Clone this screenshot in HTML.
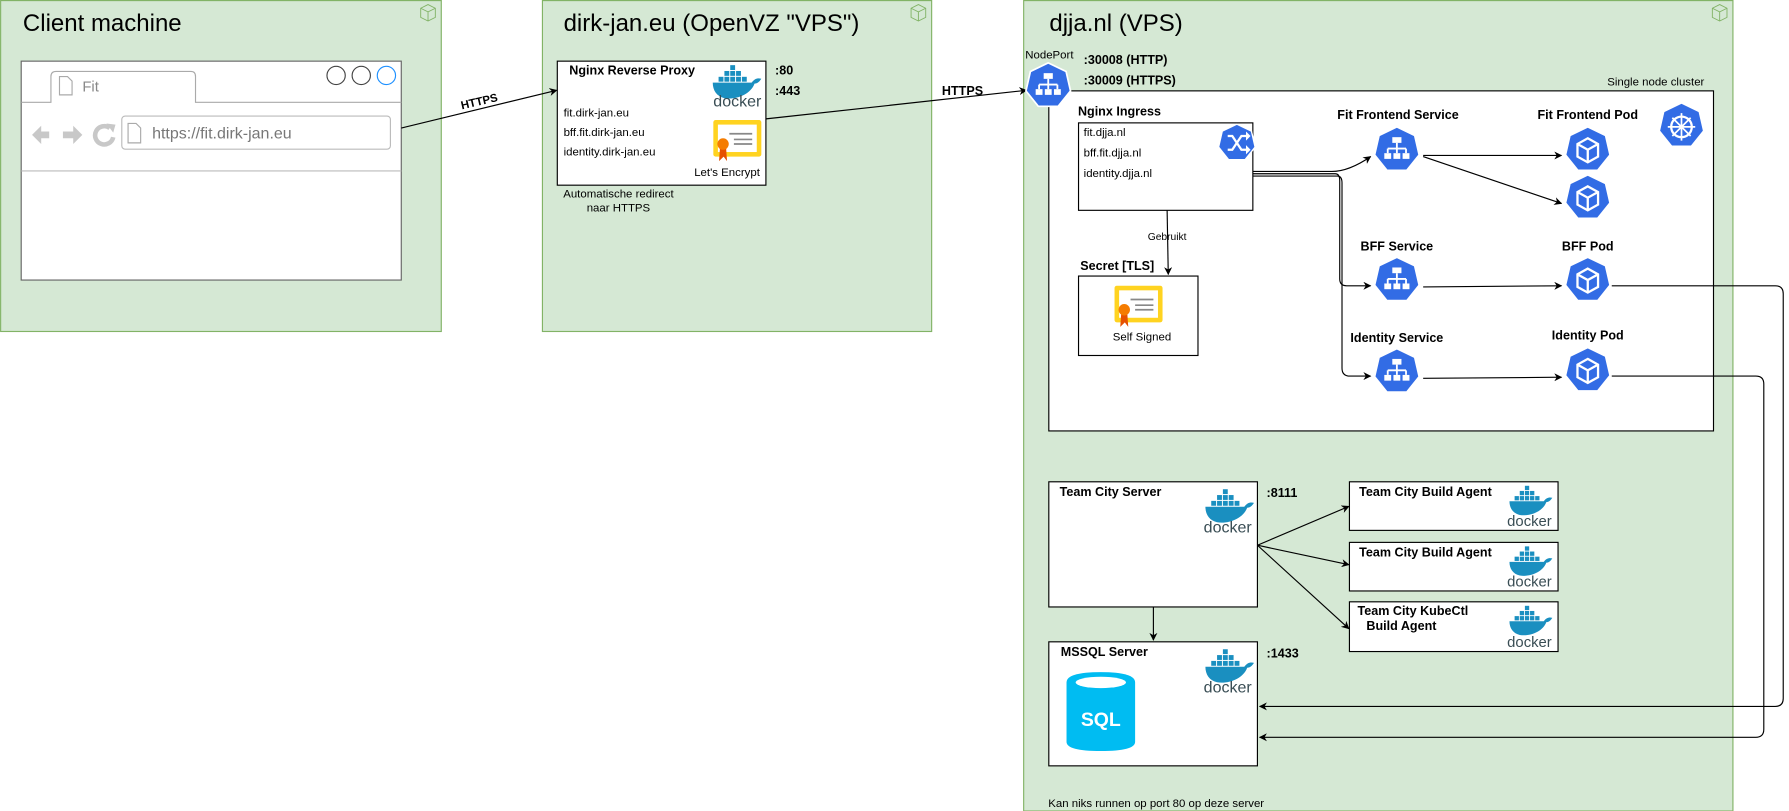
<!DOCTYPE html>
<html><head><meta charset="utf-8"><style>
html,body{margin:0;padding:0;background:#fff;}
svg{display:block;font-family:"Liberation Sans",Arial,sans-serif;}
.b{font-weight:bold;font-size:11px;}
.s{font-size:10px;}
</style></head><body>
<svg width="1789" height="811" viewBox="0 0 1565 709.5" xmlns="http://www.w3.org/2000/svg">
<defs>
<marker id="ar" viewBox="0 0 10 10" refX="9" refY="5" markerWidth="7" markerHeight="7" orient="auto"><path d="M0,0 L10,5 L0,10 L3,5 z" fill="#000"/></marker>
<g id="hept"><path d="M0,-20 L15.6,-12.5 L19.5,4.5 L8.7,18 L-8.7,18 L-19.5,4.5 L-15.6,-12.5 Z" fill="#326ce5" stroke="#fff" stroke-width="1.5"/></g>
<g id="svc"><use href="#hept"/><g fill="#fff"><rect x="-4" y="-11" width="8" height="5"/><rect x="-11" y="3" width="6" height="5"/><rect x="-3" y="3" width="6" height="5"/><rect x="5" y="3" width="6" height="5"/></g><path d="M0,-6 V-1 M-8,-1 H8 M-8,-1 V3 M0,-1 V3 M8,-1 V3" stroke="#fff" stroke-width="1.6" fill="none"/></g>
<g id="pod"><use href="#hept"/><path d="M0,-10 L9,-5 L9,6 L0,11 L-9,6 L-9,-5 Z M-9,-5 L0,0 L9,-5 M0,0 V11" fill="none" stroke="#fff" stroke-width="2"/></g>
<g id="whale"><g fill="#1a8fc0"><rect x="8" y="0" width="5" height="5"/><rect x="2" y="6" width="5" height="5"/><rect x="8" y="6" width="5" height="5"/><rect x="14" y="6" width="5" height="5"/><rect x="-4" y="12" width="5" height="5"/><rect x="2" y="12" width="5" height="5"/><rect x="8" y="12" width="5" height="5"/><rect x="14" y="12" width="5" height="5"/><rect x="20" y="12" width="5" height="5"/><path d="M-10,18 L30,18 C33,14 36,13 40,14 C38,17 36,19 33,19 C29,30 14,36 2,34 C-6,32 -10,26 -10,18 Z"/></g></g>
<g id="cert"><rect x="0" y="0" width="42" height="32" rx="2" fill="#ffd320" /><rect x="4" y="4" width="34" height="24" fill="#fff"/><path d="M14,12 H34 M18,17 H34 M18,21 H34" stroke="#888" stroke-width="1.5"/><path d="M6,22 L5,36 L9,32 L12,36 L11,22 Z" fill="#e65100"/><circle cx="8.5" cy="21" r="5" fill="#f57c00"/></g>
<g id="cube"><path d="M0,4 L8,0 L16,4 L16,14 L8,18 L0,14 Z M0,4 L8,8 L16,4 M8,8 V18" fill="none" stroke="#82b366" stroke-width="1"/></g>
</defs>

<rect x="0.5" y="0.5" width="385.5" height="289.5" fill="#d5e8d4" stroke="#82b366"/>
<use href="#cube" transform="translate(368,4) scale(0.8)"/>
<text x="20" y="27" font-size="21">Client machine</text>
<rect x="18.5" y="53.5" width="332.5" height="191.5" fill="#fff" stroke="#666"/>
<path d="M18.5,89.5 H44.5 V67 Q44.5,62.5 49,62.5 H167 Q171,62.5 171,67 V89.5 H351" fill="#fff" stroke="#aaa"/>
<path d="M52,67 h7 l4,4 v12 h-11 z" fill="#fff" stroke="#aaa"/>
<text x="72" y="80" font-size="13" fill="#888">Fit</text>
<circle cx="294" cy="66" r="8" fill="#fff" stroke="#444"/>
<circle cx="316" cy="66" r="8" fill="#fff" stroke="#444"/>
<circle cx="338" cy="66" r="8" fill="#fff" stroke="#1e90ff"/>
<path d="M28,118 l8,-8 v5 h7 v6 h-7 v5 z" fill="#c8c8c8"/>
<path d="M72,118 l-8,-8 v5 h-9 v6 h9 v5 z" fill="#c8c8c8"/>
<path d="M96,112 a8,8 0 1 0 3,8" stroke="#c8c8c8" stroke-width="4" fill="none"/><path d="M93,108 l8,1 -2,7z" fill="#c8c8c8"/>
<rect x="106.5" y="101.5" width="235" height="29" rx="3" fill="#fff" stroke="#bbb"/>
<path d="M112,108 h7 l4,4 v13 h-11 z" fill="#fff" stroke="#aaa"/>
<text x="133" y="121" font-size="14" fill="#777">https://fit.dirk-jan.eu</text>
<line x1="18.5" y1="149.5" x2="351" y2="149.5" stroke="#bbb"/>

<rect x="474.5" y="0.5" width="340.5" height="289.5" fill="#d5e8d4" stroke="#82b366"/>
<use href="#cube" transform="translate(797,4) scale(0.8)"/>
<text x="493" y="27" font-size="21">dirk-jan.eu (OpenVZ "VPS")</text>
<rect x="487.5" y="53.5" width="182.5" height="108.5" fill="#fff" stroke="#000"/>
<text x="498" y="65" class="b">Nginx Reverse Proxy</text>
<text x="493" y="102" class="s">fit.dirk-jan.eu</text>
<text x="493" y="119" class="s">bff.fit.dirk-jan.eu</text>
<text x="493" y="136" class="s">identity.dirk-jan.eu</text>
<use href="#whale" transform="translate(632,57) scale(0.85)"/>
<text x="645" y="93" font-size="14" fill="#394d54" text-anchor="middle">docker</text>
<use href="#cert" transform="translate(624,105)"/>
<text x="636" y="154" class="s" text-anchor="middle">Let's Encrypt</text>
<text x="678" y="65" class="b">:80</text>
<text x="678" y="83" class="b">:443</text>
<text x="541" y="173" class="s" text-anchor="middle">Automatische redirect</text>
<text x="541" y="185" class="s" text-anchor="middle">naar HTTPS</text>

<line x1="351" y1="112" x2="487" y2="79" stroke="#000" marker-end="url(#ar)"/>
<text x="420" y="92" class="s" font-weight="bold" text-anchor="middle" transform="rotate(-13 420 92)">HTTPS</text>

<rect x="895.5" y="0.5" width="620.5" height="709" fill="#d5e8d4" stroke="#82b366"/>
<use href="#cube" transform="translate(1498,4) scale(0.8)"/>
<text x="918" y="27" font-size="21">djja.nl (VPS)</text>

<line x1="670" y1="104" x2="898" y2="79" stroke="#000" marker-end="url(#ar)"/>
<text x="824" y="83" class="b" font-size="10">HTTPS</text>

<rect x="917.5" y="79.5" width="581.5" height="297.5" fill="#fff" stroke="#000"/>
<text x="1491" y="75" class="s" text-anchor="end">Single node cluster</text>
<use href="#svc" transform="translate(917,75)"/>
<text x="918" y="51" class="s" text-anchor="middle">NodePort</text>
<text x="948" y="56" class="b">:30008 (HTTP)</text>
<text x="948" y="74" class="b">:30009 (HTTPS)</text>
<use href="#hept" transform="translate(1471,110)"/>
<circle cx="1471" cy="111" r="9" fill="none" stroke="#fff" stroke-width="2"/>
<path d="M1471,99 V123 M1459,111 H1483 M1463,103 L1479,119 M1479,103 L1463,119" stroke="#fff" stroke-width="1.5"/>

<text x="943" y="101" class="b">Nginx Ingress</text>
<rect x="943.5" y="107.5" width="152.5" height="76.5" fill="#fff" stroke="#000"/>
<text x="948" y="119" class="s">fit.djja.nl</text>
<text x="948" y="137" class="s">bff.fit.djja.nl</text>
<text x="948" y="155" class="s">identity.djja.nl</text>
<use href="#hept" transform="translate(1082,125) scale(0.82)"/>
<path d="M1074,119 h4 l8,12 h5 M1074,131 h4 l8,-12 h5" stroke="#fff" stroke-width="2" fill="none"/>
<path d="M1090,115 l4,4 -4,4z M1090,127 l4,4 -4,4z" fill="#fff"/>

<line x1="1021" y1="184" x2="1022" y2="240" stroke="#000" marker-end="url(#ar)"/>
<rect x="1000" y="202" width="42" height="12" fill="#d5e8d4" opacity="0"/>
<text x="1021" y="210" font-size="9" text-anchor="middle">Gebruikt</text>
<text x="945" y="236" class="b">Secret [TLS]</text>
<rect x="943.5" y="241.5" width="104.5" height="69.5" fill="#fff" stroke="#000"/>
<use href="#cert" transform="translate(975,250)"/>
<text x="999" y="298" class="s" text-anchor="middle">Self Signed</text>

<path d="M1096,150 H1165 Q1180,150 1199,137" fill="none" stroke="#000" marker-end="url(#ar)"/>
<path d="M1096,152 H1168 Q1172,152 1172,158 V244 Q1172,250 1178,250 H1199" fill="none" stroke="#000" marker-end="url(#ar)"/>
<path d="M1096,154 H1170 Q1174,154 1174,160 V322 Q1174,329 1181,329 H1199" fill="none" stroke="#000" marker-end="url(#ar)"/>

<text x="1223" y="104" class="b" text-anchor="middle">Fit Frontend Service</text>
<use href="#svc" transform="translate(1222,131)"/>
<text x="1222" y="219" class="b" text-anchor="middle">BFF Service</text>
<use href="#svc" transform="translate(1222,245)"/>
<text x="1222" y="299" class="b" text-anchor="middle">Identity Service</text>
<use href="#svc" transform="translate(1222,325)"/>

<text x="1389" y="104" class="b" text-anchor="middle">Fit Frontend Pod</text>
<use href="#pod" transform="translate(1389,131)"/>
<use href="#pod" transform="translate(1389,173)"/>
<text x="1389" y="219" class="b" text-anchor="middle">BFF Pod</text>
<use href="#pod" transform="translate(1389,245)"/>
<text x="1389" y="297" class="b" text-anchor="middle">Identity Pod</text>
<use href="#pod" transform="translate(1389,324)"/>

<line x1="1245" y1="136" x2="1366" y2="136" stroke="#000" marker-end="url(#ar)"/>
<line x1="1245" y1="137" x2="1366" y2="178" stroke="#000" marker-end="url(#ar)"/>
<line x1="1245" y1="251" x2="1366" y2="250" stroke="#000" marker-end="url(#ar)"/>
<line x1="1245" y1="331" x2="1366" y2="330" stroke="#000" marker-end="url(#ar)"/>

<path d="M1410,250 H1553 Q1560,250 1560,257 V611 Q1560,618 1553,618 H1102" fill="none" stroke="#000" marker-end="url(#ar)"/>
<path d="M1410,329 H1536 Q1543,329 1543,336 V638 Q1543,645 1536,645 H1102" fill="none" stroke="#000" marker-end="url(#ar)"/>

<rect x="917.5" y="421.5" width="182.5" height="109.5" fill="#fff" stroke="#000"/>
<text x="927" y="434" class="b">Team City Server</text>
<use href="#whale" transform="translate(1063,428) scale(0.85)"/>
<text x="1074" y="466" font-size="14" fill="#394d54" text-anchor="middle">docker</text>
<text x="1108" y="435" class="b">:8111</text>

<rect x="1180.5" y="421.5" width="182.5" height="42.5" fill="#fff" stroke="#000"/>
<text x="1189" y="434" class="b">Team City Build Agent</text>
<use href="#whale" transform="translate(1328,425) scale(0.75)"/>
<text x="1338" y="460" font-size="13" fill="#394d54" text-anchor="middle">docker</text>
<rect x="1180.5" y="474.5" width="182.5" height="42.5" fill="#fff" stroke="#000"/>
<text x="1189" y="487" class="b">Team City Build Agent</text>
<use href="#whale" transform="translate(1328,478) scale(0.75)"/>
<text x="1338" y="513" font-size="13" fill="#394d54" text-anchor="middle">docker</text>
<rect x="1180.5" y="526.5" width="182.5" height="43.5" fill="#fff" stroke="#000"/>
<text x="1236" y="538" class="b" text-anchor="middle">Team City KubeCtl</text>
<text x="1226" y="551" class="b" text-anchor="middle">Build Agent</text>
<use href="#whale" transform="translate(1328,530) scale(0.75)"/>
<text x="1338" y="566" font-size="13" fill="#394d54" text-anchor="middle">docker</text>

<line x1="1100" y1="477" x2="1180" y2="443" stroke="#000" marker-end="url(#ar)"/>
<line x1="1100" y1="477" x2="1180" y2="494" stroke="#000" marker-end="url(#ar)"/>
<line x1="1100" y1="477" x2="1180" y2="550" stroke="#000" marker-end="url(#ar)"/>
<line x1="1009" y1="531" x2="1009" y2="560" stroke="#000" marker-end="url(#ar)"/>

<rect x="917.5" y="561.5" width="182.5" height="108.5" fill="#fff" stroke="#000"/>
<text x="928" y="574" class="b">MSSQL Server</text>
<use href="#whale" transform="translate(1063,568) scale(0.85)"/>
<text x="1074" y="606" font-size="14" fill="#394d54" text-anchor="middle">docker</text>
<text x="1108" y="575" class="b">:1433</text>
<path d="M933,597 Q933,588 963,588 Q993,588 993,597 V649 Q993,657 963,657 Q933,657 933,649 Z" fill="#00bcf2"/>
<ellipse cx="963" cy="597" rx="22" ry="5" fill="#fff"/>
<text x="963" y="635" font-size="17" font-weight="bold" fill="#fff" text-anchor="middle">SQL</text>

<text x="917" y="706" class="s">Kan niks runnen op port 80 op deze server</text>
</svg>
</body></html>
